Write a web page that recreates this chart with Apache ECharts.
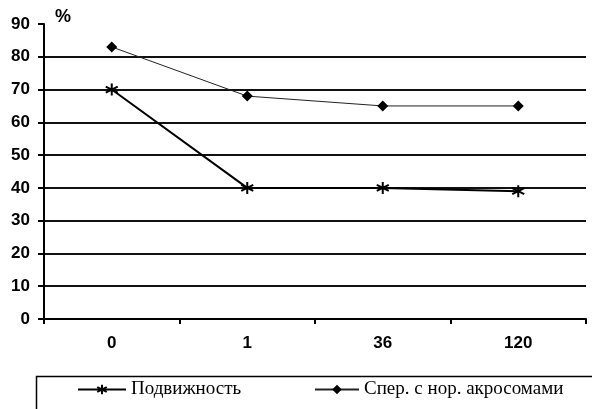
<!DOCTYPE html>
<html>
<head>
<meta charset="utf-8">
<script src="https://cdn.jsdelivr.net/npm/echarts@6/dist/echarts.min.js"></script>
<style>
html, body { margin: 0; padding: 0; background: #fff; }
#chart { width: 592px; height: 409px; }
</style>
</head>
<body>
<div id="chart"></div>
<script>
var categories = ['0', '1', '36', '120'];
var motility = [70, 40, 40, 39];
var normalAcrosome = [83, 68, 65, 65];
var seriesNames = ['Подвижность', 'Спер. с нор. акросомами'];

var starPath = 'path://M0,-10L0,10M-8.7,-5L8.7,5M-8.7,5L8.7,-5';

var chart = echarts.init(document.getElementById('chart'));

var legendText = { fontFamily: 'Liberation Serif', fontSize: 19, color: '#000' };

var option = {
    backgroundColor: '#fff',
    animation: false,
    grid: { left: 44, right: 6, top: 24, bottom: 90 },
    graphic: [
        {
            type: 'text', left: 55, top: 8,
            style: { text: '%', fontSize: 18, fontWeight: 'bold', fontFamily: 'Liberation Sans', fill: '#000' }
        },
        {
            type: 'rect', left: 34, top: 374,
            shape: { width: 600, height: 60 },
            style: { fill: 'none', stroke: '#000', lineWidth: 1.5 }
        }
    ],
    legend: [
        {
            left: 77, top: 380, padding: 0,
            itemWidth: 48, itemHeight: 12,
            textStyle: legendText,
            data: [seriesNames[0]]
        },
        {
            left: 314, top: 380, padding: 0,
            itemWidth: 44, itemHeight: 12,
            textStyle: legendText,
            data: [seriesNames[1]]
        }
    ],
    xAxis: {
        type: 'category',
        data: categories,
        boundaryGap: true,
        axisLine: { lineStyle: { color: '#000', width: 2 } },
        axisTick: { show: true, inside: false, length: 5, lineStyle: { color: '#000', width: 2 } },
        axisLabel: { margin: 16, fontFamily: 'Liberation Sans', fontWeight: 'bold', fontSize: 17, color: '#000' }
    },
    yAxis: {
        type: 'value',
        min: 0, max: 90, interval: 10,
        axisLine: { show: true, lineStyle: { color: '#000', width: 2 } },
        axisTick: { show: true, length: 6, lineStyle: { color: '#000', width: 2 } },
        axisLabel: { margin: 14, fontFamily: 'Liberation Sans', fontWeight: 'bold', fontSize: 17, color: '#000' },
        splitLine: { show: true, showMaxLine: false, lineStyle: { color: '#111', width: 2 } }
    },
    series: [
        {
            name: seriesNames[0],
            type: 'line',
            data: motility,
            symbol: starPath,
            symbolSize: 12,
            lineStyle: { color: '#000', width: 2 },
            itemStyle: { color: '#000', borderColor: '#000', borderWidth: 2 }
        },
        {
            name: seriesNames[1],
            type: 'line',
            data: normalAcrosome,
            symbol: 'diamond',
            symbolSize: 11,
            lineStyle: { color: '#222', width: 1 },
            itemStyle: { color: '#000' }
        }
    ]
};

chart.setOption(option);
</script>
</body>
</html>
